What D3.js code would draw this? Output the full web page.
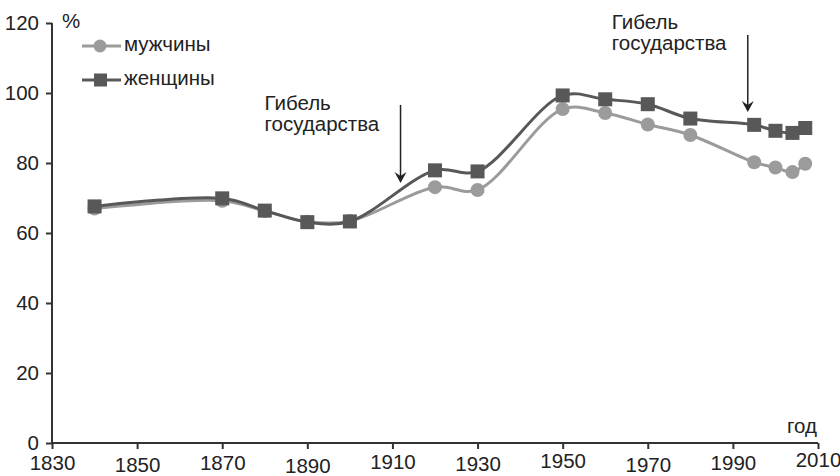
<!DOCTYPE html>
<html>
<head>
<meta charset="utf-8">
<script src="https://cdn.jsdelivr.net/npm/d3@7"></script>
<style>
  body { margin: 0; background: #fff; }
  text { font-family: "Liberation Sans", Arial, sans-serif; fill: #222; }
</style>
</head>
<body>
<div id="chart"></div>
<script>
// data
var years   = [1840, 1870, 1880, 1890, 1900, 1920, 1930, 1950, 1960, 1970, 1980, 1995, 2000, 2004, 2007];
var men     = [67, 69.2, 66.3, 63.2, 63.4, 73.1, 72.3, 95.4, 94.3, 91, 88, 80.2, 78.7, 77.4, 79.8];
var women   = [67.6, 69.9, 66.4, 63.1, 63.3, 77.9, 77.6, 99.3, 98.2, 96.8, 92.7, 90.9, 89.2, 88.6, 90];
var xTicks  = [1830, 1850, 1870, 1890, 1910, 1930, 1950, 1970, 1990, 2010];
var yTicks  = [0, 20, 40, 60, 80, 100, 120];
var seriesNames = ["мужчины", "женщины"];
var annotations = [
  {year: 1911.9, textTop: 95.1, arrowTop: 96.6, arrowTip: 74.3},
  {year: 1993.5, textTop: 118.3, arrowTop: 116.6, arrowTip: 94.6}
];

//Width and height
var w = 840;
var h = 476;
var fs = "20.5px";

// little vertical jitter of the year labels, as in the scan
var xLabelShift = [0, 2, 0, 3, -1, 1, -2, 2, 0, -3];

var x = d3.scaleLinear().domain([1830, 2010]).range([52, 818]);
var y = d3.scaleLinear().domain([0, 120]).range([443, 23]);

var svg = d3.select("#chart")
  .append("svg")
  .attr("width", w)
  .attr("height", h);

//Axes
var yAxis = d3.axisLeft(y).tickValues(yTicks).tickSize(6).tickPadding(7);
var gy = svg.append("g")
  .attr("transform", "translate(" + x(1830) + ",0)")
  .call(yAxis);

var xAxis = d3.axisBottom(x).tickValues(xTicks).tickFormat(d3.format("d")).tickSize(6).tickPadding(11);
var gx = svg.append("g")
  .attr("transform", "translate(0," + y(0) + ")")
  .call(xAxis);

[gx, gy].forEach(function(g) {
  g.select(".domain").attr("stroke", "#333").attr("stroke-width", 2);
  g.selectAll(".tick line").attr("stroke", "#333").attr("stroke-width", 2);
  g.selectAll(".tick text")
    .style("font-size", fs)
    .style("font-family", "'Liberation Sans', Arial, sans-serif")
    .attr("fill", "#222");
});
gx.selectAll(".tick text").attr("y", function(d, i) { return 12 + xLabelShift[i]; });
// outer tick caps off, domain only between ends
gy.select(".domain").attr("d", "M0," + y(120) + "V" + y(0));
gx.select(".domain").attr("d", "M" + x(1830) + ",0H" + x(2010));

//Axis titles
svg.append("text")
  .attr("x", x(1830) + 10)
  .attr("y", 28)
  .style("font-size", fs)
  .text("%");

svg.append("text")
  .attr("x", x(2010) - 1)
  .attr("y", y(0) - 10)
  .attr("text-anchor", "end")
  .style("font-size", fs)
  .text("год");

//Lines
var colors = ["#9b9b9b", "#585858"];
var values = [men, women];

var line = d3.line()
  .x(function(d) { return x(d[0]); })
  .y(function(d) { return y(d[1]); })
  .curve(d3.curveCatmullRom.alpha(0.5));

values.forEach(function(vals, k) {
  var pts = years.map(function(yr, i) { return [yr, vals[i]]; });

  svg.append("path")
    .datum(pts)
    .attr("d", line)
    .attr("fill", "none")
    .attr("stroke", colors[k])
    .attr("stroke-width", 3);

  if (k === 0) {
    svg.selectAll(".pt-men")
      .data(pts)
      .enter()
      .append("circle")
      .attr("class", "pt-men")
      .attr("cx", function(d) { return x(d[0]); })
      .attr("cy", function(d) { return y(d[1]); })
      .attr("r", 7)
      .attr("fill", colors[k]);
  } else {
    svg.selectAll(".pt-women")
      .data(pts)
      .enter()
      .append("rect")
      .attr("class", "pt-women")
      .attr("x", function(d) { return x(d[0]) - 7; })
      .attr("y", function(d) { return y(d[1]) - 7; })
      .attr("width", 14)
      .attr("height", 14)
      .attr("fill", colors[k]);
  }
});

//Legend
var legend = svg.append("g");
seriesNames.forEach(function(name, k) {
  var ly = 46 + k * 34;
  legend.append("line")
    .attr("x1", 82).attr("x2", 121)
    .attr("y1", ly).attr("y2", ly)
    .attr("stroke", colors[k])
    .attr("stroke-width", 3);
  if (k === 0) {
    legend.append("circle").attr("cx", 100).attr("cy", ly).attr("r", 6.5).attr("fill", colors[k]);
  } else {
    legend.append("rect").attr("x", 94).attr("y", ly - 6.5).attr("width", 13).attr("height", 13).attr("fill", colors[k]);
  }
  legend.append("text")
    .attr("x", 124)
    .attr("y", ly + 5)
    .style("font-size", fs)
    .text(name);
});

//Annotations
annotations.forEach(function(a) {
  var ax = x(a.year);
  var t = svg.append("text")
    .attr("x", ax - 136)
    .attr("y", y(a.textTop))
    .style("font-size", fs);
  t.append("tspan").attr("x", ax - 136).text("Гибель");
  t.append("tspan").attr("x", ax - 136).attr("dy", 21).text("государства");

  var tip = y(a.arrowTip);
  svg.append("line")
    .attr("x1", ax).attr("x2", ax)
    .attr("y1", y(a.arrowTop)).attr("y2", tip - 6)
    .attr("stroke", "#222")
    .attr("stroke-width", 1.5);
  svg.append("path")
    .attr("d", "M" + ax + "," + tip + "L" + (ax - 6) + "," + (tip - 11) +
               "L" + ax + "," + (tip - 7) + "L" + (ax + 6) + "," + (tip - 11) + "Z")
    .attr("fill", "#222");
});
</script>
</body>
</html>
